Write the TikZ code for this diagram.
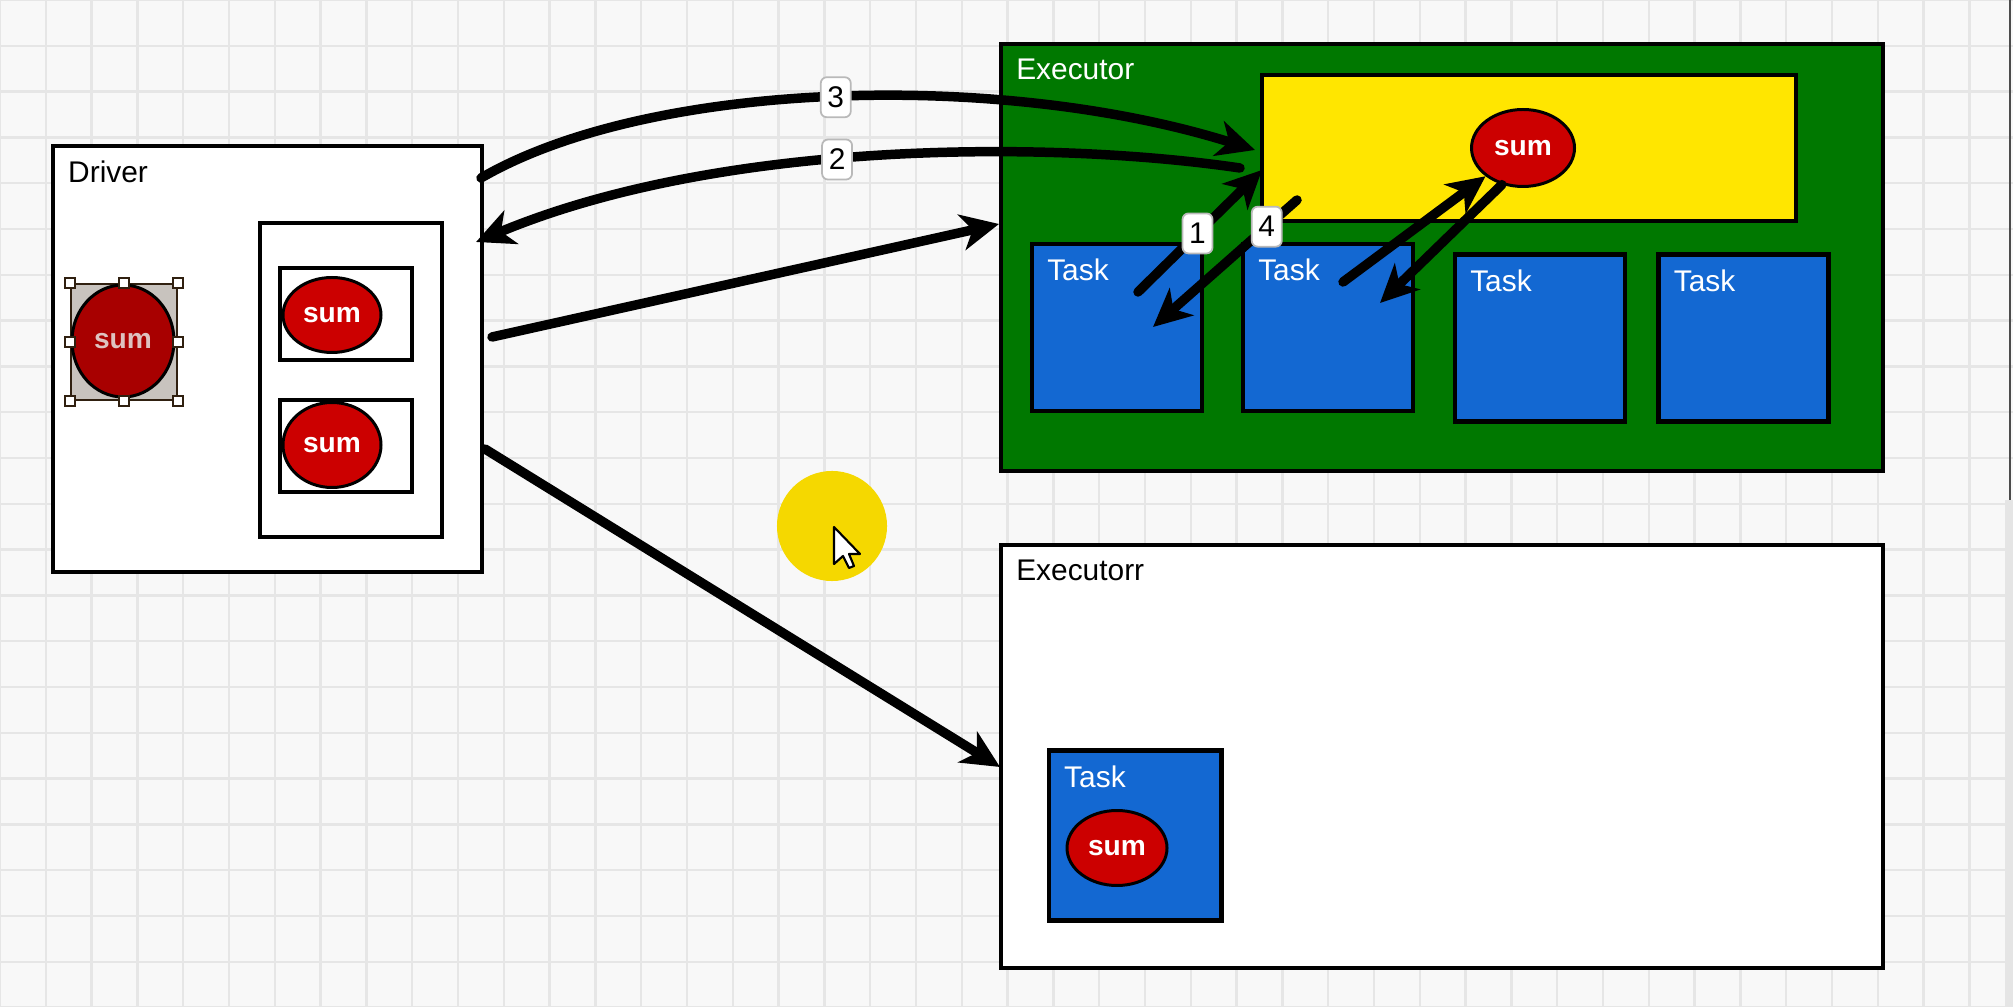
\documentclass[tikz,border=0pt]{standalone}
\usepackage{fontspec}
\setmainfont{Liberation Sans}
\usetikzlibrary{arrows.meta,positioning,shapes.geometric}

\definecolor{paper}{HTML}{F8F8F8}
\definecolor{gridgray}{HTML}{E6E6E6}
\definecolor{execgreen}{HTML}{007800}
\definecolor{taskblue}{HTML}{1368D2}
\definecolor{sumred}{HTML}{CC0000}
\definecolor{pickred}{HTML}{A80000}
\definecolor{picktext}{HTML}{DEC2C0}
\definecolor{pickgray}{HTML}{C8C3BE}
\definecolor{storeyellow}{HTML}{FFE600}
\definecolor{spotyellow}{HTML}{F5D800}

\newcommand*{\diagfont}{\fontsize{8.5pt}{10pt}\selectfont}
\newcommand*{\sumfont}{\fontsize{8pt}{10pt}\selectfont\bfseries}
\newcommand*{\boxlabel}[4]{ %name, box, colour, text
	\node[lbl, text=#3, anchor=north west] (#1) at ([shift={(17,17)}]#2.north west) {#4};
}

\begin{document}
\begin{tikzpicture}[x=0.01cm, y=-0.01cm,
	frame/.style 2 args={draw=black, line width=1.4pt, inner sep=0pt,
		minimum width=#1*0.01cm, minimum height=#2*0.01cm},
	taskbox/.style={frame={170}{167}, fill=taskblue},
	sumnode/.style 2 args={ellipse, draw=black, line width=0.85pt, fill=sumred,
		text=white, font=\sumfont, inner sep=0pt,
		minimum width=#1*0.01cm, minimum height=#2*0.01cm},
	lbl/.style={font=\diagfont, inner sep=0pt},
	handle/.style={draw=black!75!brown, fill=white, line width=0.5pt,
		minimum size=0.1cm, inner sep=0pt},
	stepno/.style={draw=gray!55, fill=white, rounded corners=0.06cm, line width=0.5pt,
		minimum width=0.3cm, minimum height=0.4cm, inner sep=0pt, font=\diagfont},
	conn/.style={line width=2.7pt, line cap=round,
		-{Stealth[length=0.38cm, width=0.36cm, inset=0.11cm]}},
	gridln/.style={gridgray, line width=0.7pt}]
	
	% paper and grid
	\fill[paper] (0,0) rectangle (2013,1007);
	\useasboundingbox (0,0) rectangle (2013,1007);
	\foreach \i in {0,...,43}
		\draw[gridln] (\i*45.8,0) -- (\i*45.8,1007);
	\foreach \j in {0,...,22}
		\draw[gridln] (0,\j*45.8) -- (2013,\j*45.8);
	% scroll bar
	\fill[gray!20] (2005,500) rectangle (2013,1007);
	\draw[gray!60!black, line width=0.4pt] (2010,0) -- (2010,500);
	
	% the driver
	\node[frame={429}{426}, fill=white] (drv) at (267.5,359) {};
	\boxlabel{drvlbl}{drv}{black}{Driver}
	\node[frame={182}{314}, fill=white] (part) at (351,380) {};
	\node[frame={132}{92}, fill=white] (slotA) at (346,314) {};
	\node[frame={132}{92}, fill=white] (slotB) at (346,446) {};
	\node[sumnode={98}{75}] (sumA) at (332,315) {sum};
	\node[sumnode={98}{85}] (sumB) at (332,445) {sum};
	% the selected sum
	\node[draw=black!75!brown, line width=0.5pt, fill=pickgray, inner sep=0pt,
		minimum width=1.06cm, minimum height=1.16cm] (sel) at (124,342) {};
	\node[sumnode={102}{112}, fill=pickred, text=picktext] (sumD) at (123,341) {sum};
	\foreach \a/\n in {north west/1,north/2,north east/3,east/4,south east/5,south/6,south west/7,west/8}
		\node[handle] (hd\n) at (sel.\a) {};
	
	% first executor
	\node[frame={882}{427}, fill=execgreen] (exA) at (1442,257.5) {};
	\boxlabel{exAlbl}{exA}{white}{Executor}
	\node[frame={534}{146}, fill=storeyellow] (store) at (1529,148) {};
	\node[sumnode={103}{77}] (sumE) at (1523,148) {sum};
	\foreach \n/\x/\y in {1/1117/327.5,2/1328/327.5,3/1540/338,4/1743.5/338}
	{
		\node[taskbox] (task\n) at (\x,\y) {};
		\boxlabel{tasklbl\n}{task\n}{white}{Task}
	}
	
	% second executor
	\node[frame={882}{423}, fill=white] (exB) at (1442,756.5) {};
	\boxlabel{exBlbl}{exB}{black}{Executorr}
	\node[taskbox, minimum width=1.72cm, minimum height=1.69cm] (task5) at (1135,835.5) {};
	\boxlabel{tasklbl5}{task5}{white}{Task}
	\node[sumnode={100}{75}] (sumF) at (1117,848) {sum};
	
	% end points
	\coordinate (d3) at (481,178);
	\coordinate (s3) at (1255,150);
	\coordinate (s2) at (1240,168);
	\coordinate (d2) at (476,242);
	\coordinate (d5) at (492,337);
	\coordinate (e5) at (999,224);
	\coordinate (d6) at (485,449);
	\coordinate (e6) at (1000,767);
	\coordinate (t1a) at (1138,292);
	\coordinate (s1) at (1262,170);
	\coordinate (s4) at (1297,200);
	\coordinate (t1b) at (1153,327);
	\coordinate (t2a) at (1343,282);
	\coordinate (t2b) at (1380,303);
	
	% connectors
	\draw[conn] (d3) .. controls (650,80) and (1000,70) .. (s3) node[pos=0.5, stepno] (n3) {3};
	\draw[conn] (s2) .. controls (1050,140) and (720,140) .. (d2) node[pos=0.55, stepno] (n2) {2};
	\draw[conn] (d5) -- (e5);
	\draw[conn] (d6) -- (e6);
	\draw[conn] (t1a) -- (s1) node[pos=0.48, stepno] (n1) {1};
	\draw[conn] (s4) -- (t1b) node[pos=0.21, stepno] (n4) {4};
	\draw[conn] (t2a) -- (sumE.south west);
	\draw[conn] (sumE.240) -- (t2b);
	
	% the pointer
	\node[circle, fill=spotyellow, minimum size=1.1cm, inner sep=0pt] (spot) at (832,526) {};
	\draw[black, fill=white, line width=0.6pt, line join=round, shift={(834,527)}]
		(0,0) -- (0,37) -- (9,29) -- (15,41) -- (20,39) -- (15,27) -- (26,27) -- cycle;
	
\end{tikzpicture}
\end{document}
